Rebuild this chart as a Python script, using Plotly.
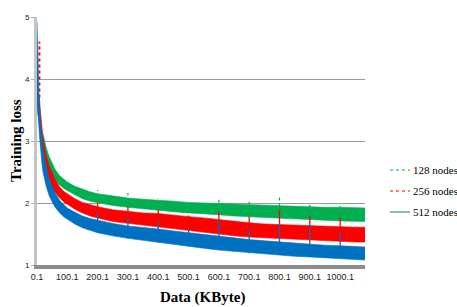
import plotly.graph_objects as go

# ---- data ----
X = [0.1, 2, 5, 8, 12, 16, 20, 25, 30, 40, 50, 60, 75, 90, 100, 125, 150, 175,
     200, 250, 300, 350, 400, 450, 500, 550, 600, 650, 700, 750, 800, 850, 900,
     950, 1000, 1050, 1082]

# 512 nodes: upper / lower edge of the noisy band, on X
blue_hi = [4.92, 4.5, 3.75, 3.55, 3.3, 3.05, 2.88, 2.72, 2.6, 2.4, 2.27, 2.16, 2.04,
           1.96, 1.92, 1.85, 1.79, 1.75, 1.72, 1.67, 1.63, 1.61, 1.58, 1.55, 1.52,
           1.49, 1.46, 1.43, 1.41, 1.39, 1.37, 1.35, 1.34, 1.32, 1.31, 1.3, 1.29]
blue_lo = [3.6, 3.45, 3.35, 3.1, 2.85, 2.65, 2.5, 2.38, 2.28, 2.12, 2.02, 1.93, 1.84,
           1.77, 1.73, 1.66, 1.6, 1.56, 1.52, 1.47, 1.43, 1.4, 1.36, 1.33, 1.3,
           1.27, 1.24, 1.21, 1.19, 1.17, 1.16, 1.14, 1.13, 1.12, 1.11, 1.09, 1.08]

# 256 nodes: starts at X[2]
red_start = 2
red_hi = [3.75, 3.7, 3.45, 3.2, 3.05, 2.9, 2.78, 2.6, 2.48, 2.38, 2.26, 2.18, 2.15,
          2.07, 2.01, 1.97, 1.94, 1.89, 1.86, 1.84, 1.83, 1.8, 1.78, 1.76, 1.73,
          1.7, 1.68, 1.66, 1.65, 1.64, 1.63, 1.62, 1.62, 1.61, 1.61]
red_lo = [3.45, 3.25, 3.0, 2.82, 2.72, 2.6, 2.5, 2.36, 2.25, 2.17, 2.08, 2.01, 1.98,
          1.9, 1.84, 1.79, 1.76, 1.7, 1.67, 1.64, 1.61, 1.58, 1.56, 1.53, 1.5,
          1.47, 1.45, 1.43, 1.42, 1.41, 1.4, 1.39, 1.38, 1.37, 1.37]
red_early_spike = [3.7, 4.6]

# 128 nodes: starts at X[6]
green_start = 6
green_hi = [3.12, 3.0, 2.9, 2.75, 2.63, 2.54, 2.44, 2.38, 2.34, 2.27, 2.22, 2.18,
            2.15, 2.11, 2.08, 2.06, 2.05, 2.03, 2.01, 2.0, 1.99, 1.98, 1.97, 1.96,
            1.95, 1.94, 1.94, 1.93, 1.93, 1.92, 1.92]
green_lo = [2.84, 2.77, 2.68, 2.55, 2.45, 2.37, 2.29, 2.23, 2.2, 2.13, 2.07, 2.03,
            2.0, 1.96, 1.93, 1.9, 1.88, 1.86, 1.84, 1.82, 1.81, 1.79, 1.78, 1.77,
            1.75, 1.74, 1.73, 1.72, 1.71, 1.7, 1.7]

SPIKE_X = [200, 300, 400, 500, 600, 700, 800, 900, 1000]
green_spike = [2.21, 2.16, 2.08, 1.99, 2.06, 2.02, 2.1, 2.0, 1.96]
red_spike = [2.0, 1.94, 1.89, 1.8, 1.86, 1.78, 1.89, 1.8, 1.77]
blue_spike = [1.84, 1.77, 1.7, 1.6, 1.7, 1.56, 1.68, 1.65, 1.53]

TICKS = [0.1, 100.1, 200.1, 300.1, 400.1, 500.1, 600.1, 700.1, 800.1, 900.1, 1000.1]
NAMES = ["128 nodes", "256 nodes", "512 nodes"]

GREEN = "#00B050"
RED = "#FF0000"
BLUE = "#0070C0"

gx = X[green_start:]
rx = X[red_start:]
assert len(gx) == len(green_hi) == len(green_lo)
assert len(rx) == len(red_hi) == len(red_lo)
assert len(X) == len(blue_hi) == len(blue_lo)

fig = go.Figure()


def band(xs, hi, lo, color):
    fig.add_trace(go.Scatter(
        x=list(xs) + list(xs)[::-1], y=list(hi) + list(lo)[::-1],
        fill="toself", fillcolor=color, mode="lines",
        line=dict(color=color, width=0.6), showlegend=False, hoverinfo="skip"))


def spikes(hi_list, lo_arr, xs, color, dash, width):
    sx, sy = [], []
    for xv, top in zip(SPIKE_X, hi_list):
        bottom = lo_arr[list(xs).index(xv)]
        sx += [xv, xv, None]
        sy += [bottom, top, None]
    fig.add_trace(go.Scatter(x=sx, y=sy, mode="lines",
                             line=dict(color=color, width=width, dash=dash),
                             showlegend=False, hoverinfo="skip"))


band(gx, green_hi, green_lo, GREEN)
band(rx, red_hi, red_lo, RED)
fig.add_trace(go.Scatter(x=[X[3], X[3]], y=red_early_spike, mode="lines",
                         line=dict(color=RED, width=2, dash="dot"),
                         showlegend=False, hoverinfo="skip"))
band(X, blue_hi, blue_lo, BLUE)
spikes(green_spike, green_lo, gx, GREEN, "dot", 1.2)
spikes(red_spike, red_lo, rx, RED, "solid", 1.3)
spikes(blue_spike, blue_lo, X, BLUE, "solid", 1.3)

# manual legend
L = 37
W = 328
T = 17
H = 248


def px(xp):
    return (xp - L) / W


def py(yp):
    return (T + H - yp) / H


leg = [(NAMES[0], GREEN, "dot", 170), (NAMES[1], RED, "dot", 191),
       (NAMES[2], "#5B9BD5", "solid", 212)]
shapes = []
annotations = []
for name, col, dash, yy in leg:
    shapes.append(dict(type="line", xref="paper", yref="paper",
                       x0=px(390), x1=px(410), y0=py(yy), y1=py(yy),
                       line=dict(color=col, width=1.5 if dash == "solid" else 1, dash=dash)))
    annotations.append(dict(xref="paper", yref="paper", x=px(411), y=py(yy),
                            text=name, showarrow=False, xanchor="left", yanchor="middle",
                            font=dict(family="Liberation Serif", size=11, color="#000")))

annotations.append(dict(xref="paper", yref="paper", x=px(16), y=py(141),
                        text="<b>Training loss</b>", textangle=-90, showarrow=False,
                        xanchor="center", yanchor="middle",
                        font=dict(family="Liberation Serif", size=15, color="#000")))
annotations.append(dict(xref="paper", yref="paper", x=px(202), y=py(297),
                        text="<b>Data (KByte)</b>", showarrow=False,
                        xanchor="center", yanchor="middle",
                        font=dict(family="Liberation Serif", size=15, color="#000")))

fig.update_layout(
    width=457, height=307,
    margin=dict(l=L, r=457 - L - W, t=T, b=307 - T - H),
    paper_bgcolor="white", plot_bgcolor="white",
    showlegend=False,
    shapes=shapes, annotations=annotations,
    xaxis=dict(range=[0.1, 1082], tickvals=TICKS, ticktext=[str(t) for t in TICKS],
               showgrid=False, zeroline=False, showline=True, linecolor="#8c8c8c",
               linewidth=4, ticks="", tickfont=dict(family="Liberation Sans", size=9, color="#222")),
    yaxis=dict(range=[1, 5], tickvals=[1, 2, 3, 4, 5], showgrid=True, gridcolor="#9a9a9a",
               gridwidth=1, zeroline=False, showline=True, linecolor="#c4c4c4", linewidth=3,
               ticks="outside", ticklen=3, tickcolor="#aaaaaa",
               tickfont=dict(family="Liberation Sans", size=8, color="#222")),
)

fig.write_html("out.html", config={"displayModeBar": False, "staticPlot": True},
               post_script="document.body.style.margin='0';document.body.style.overflow='hidden';")
